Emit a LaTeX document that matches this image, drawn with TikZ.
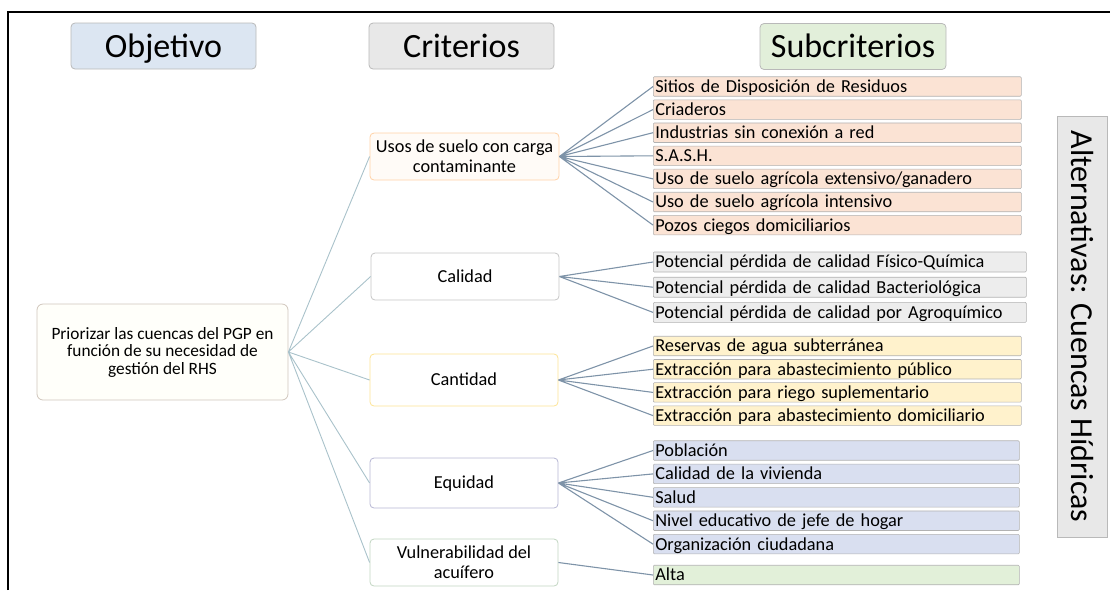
\documentclass[tikz,border=0pt]{standalone}
\usepackage{fontspec}
\setmainfont{Carlito}
\usepackage{tikz}

\definecolor{hdrblue}{HTML}{DCE6F2}
\definecolor{hdrgray}{HTML}{E8E8E8}
\definecolor{hdrgreen}{HTML}{E2EFDA}
\definecolor{suborange}{HTML}{FBE3D4}
\definecolor{subgray}{HTML}{EDEDED}
\definecolor{subyellow}{HTML}{FFF2CC}
\definecolor{subblue}{HTML}{D9DFF0}
\definecolor{subgreen}{HTML}{E2F0D9}
\definecolor{linkcol}{HTML}{7E93A8}
\definecolor{linklight}{HTML}{A9C2CA}

\tikzset{
  hdr/.style={draw=gray!55,line width=0.8pt,rounded corners=4pt,minimum width=185pt,minimum height=46pt,
    font=\fontsize{34}{40}\selectfont,text height=22pt,text depth=0pt},
  crit/.style={draw=#1,line width=0.8pt,rounded corners=4pt,fill=white,minimum width=188pt,minimum height=47pt,
    align=center,inner sep=2pt},
  oneline/.style={text height=11.8pt,text depth=0pt},
  subbox/.style={draw=gray!60,line width=0.6pt,rounded corners=1pt,anchor=west,minimum height=19.5pt,
    inner ysep=0pt,inner xsep=2pt,text height=11.8pt,text depth=0pt,text width=#1,align=left},
  link/.style={draw=linkcol,line width=1.1pt},
  linkl/.style={draw=linklight,line width=0.9pt}
}

\begin{document}
\begin{tikzpicture}[x=1pt,y=-1pt,font=\fontsize{18.3}{20}\selectfont]
  \useasboundingbox (0,0) rectangle (1110,590);
  \draw[line width=1.4pt] (8,590) -- (8,12) -- (1110,12);
  % column headers
  \node[hdr,fill=hdrblue] (hobj) at (163.5,46) {Objetivo};
  \node[hdr,fill=hdrgray] (hcrit) at (461.5,46) {Criterios};
  \node[hdr,fill=hdrgreen,minimum width=186pt] (hsub) at (853,46.5) {Subcriterios};
  \node[draw=gray!55,line width=0.8pt,fill=hdrgray,rotate=-90,minimum width=421pt,minimum height=50pt,
    font=\fontsize{32}{38}\selectfont,text height=20.6pt,text depth=0pt] (alt) at (1082,326.5) {Alternativas: Cuencas Hídricas};
  % objective
  \node[draw=brown!35!gray!45,line width=0.8pt,rounded corners=6pt,fill=yellow!2,minimum width=251pt,minimum height=96pt,
    align=center,font=\fontsize{17.3}{17.5}\selectfont] (obj) at (162.5,352) {Priorizar las cuencas del PGP en\\función de su necesidad de\\gestión del RHS};
  % criteria
  \node[crit=orange!35,fill=orange!3,minimum width=189pt] (usos) at (464.5,156.5) {Usos de suelo con carga\\contaminante};
  \node[crit=gray!45,oneline] (cal) at (465,276.5) {Calidad};
  \node[crit=yellow!55!orange!40,oneline,minimum height=52pt] (cant) at (464,380) {Cantidad};
  \node[crit=blue!25!gray!45,oneline,minimum height=50pt] (equi) at (464,483) {Equidad};
  \node[crit=green!20!gray!40] (vuln) at (464,562.5) {Vulnerabilidad del\\acuífero};
  % subcriteria
  \node[subbox=364pt,fill=suborange] (s1) at (653,86.5) {Sitios de Disposición de Residuos};
  \node[subbox=364pt,fill=suborange] (s2) at (653,109.6) {Criaderos};
  \node[subbox=364pt,fill=suborange] (s3) at (653,132.7) {Industrias sin conexión a red};
  \node[subbox=364pt,fill=suborange] (s4) at (653,155.8) {S.A.S.H.};
  \node[subbox=364pt,fill=suborange] (s5) at (653,178.9) {Uso de suelo agrícola extensivo/ganadero};
  \node[subbox=364pt,fill=suborange] (s6) at (653,202) {Uso de suelo agrícola intensivo};
  \node[subbox=364pt,fill=suborange] (s7) at (653,225.1) {Pozos ciegos domiciliarios};
  \node[subbox=369pt,fill=subgray,minimum height=20pt] (q1) at (653,262) {Potencial pérdida de calidad Físico-Química};
  \node[subbox=369pt,fill=subgray,minimum height=20pt] (q2) at (653,287.2) {Potencial pérdida de calidad Bacteriológica};
  \node[subbox=369pt,fill=subgray,minimum height=20pt] (q3) at (653,312.4) {Potencial pérdida de calidad por Agroquímico};
  \node[subbox=364pt,fill=subyellow] (c1) at (653,346) {Reservas de agua subterránea};
  \node[subbox=364pt,fill=subyellow] (c2) at (653,369.2) {Extracción para abastecimiento público};
  \node[subbox=364pt,fill=subyellow] (c3) at (653,392.4) {Extracción para riego suplementario};
  \node[subbox=364pt,fill=subyellow] (c4) at (653,415.6) {Extracción para abastecimiento domiciliario};
  \node[subbox=362pt,fill=subblue] (e1) at (653,450.5) {Población};
  \node[subbox=362pt,fill=subblue] (e2) at (653,473.9) {Calidad de la vivienda};
  \node[subbox=362pt,fill=subblue] (e3) at (653,497.3) {Salud};
  \node[subbox=362pt,fill=subblue] (e4) at (653,520.7) {Nivel educativo de jefe de hogar};
  \node[subbox=362pt,fill=subblue] (e5) at (653,544.1) {Organización ciudadana};
  \node[subbox=362pt,fill=subgreen] (a1) at (653,575) {Alta};
  % connectors
  \draw[linkl] (obj.east) -- (usos.west) (obj.east) -- (cal.west) (obj.east) -- (cant.west)
    (obj.east) -- (equi.west) (obj.east) -- (vuln.west);
  \draw[link] (usos.east) -- (s1.west) (usos.east) -- (s2.west) (usos.east) -- (s3.west) (usos.east) -- (s4.west)
    (usos.east) -- (s5.west) (usos.east) -- (s6.west) (usos.east) -- (s7.west);
  \draw[link] (cal.east) -- (q1.west) (cal.east) -- (q2.west) (cal.east) -- (q3.west);
  \draw[link] (cant.east) -- (c1.west) (cant.east) -- (c2.west) (cant.east) -- (c3.west) (cant.east) -- (c4.west);
  \draw[link] (equi.east) -- (e1.west) (equi.east) -- (e2.west) (equi.east) -- (e3.west) (equi.east) -- (e4.west)
    (equi.east) -- (e5.west);
  \draw[link] (vuln.east) -- (a1.west);
\end{tikzpicture}
\end{document}
